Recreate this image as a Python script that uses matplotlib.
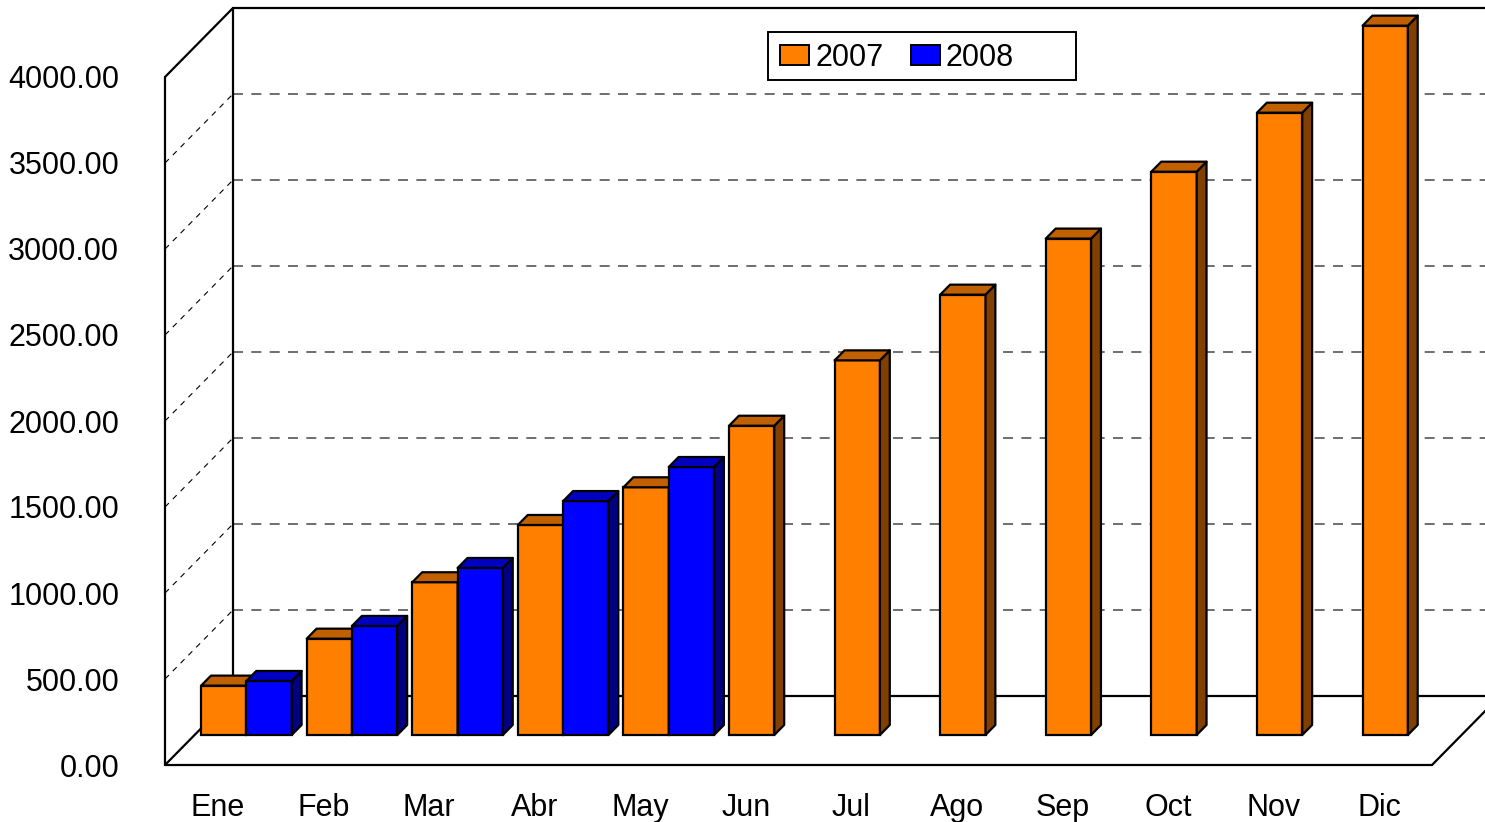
import numpy as np
import matplotlib
matplotlib.use('Agg')
import matplotlib.pyplot as plt
from matplotlib.patches import Polygon, Rectangle, Patch

plt.rcParams['font.family'] = ['Liberation Sans', 'DejaVu Sans']

# datos
meses = ['Ene', 'Feb', 'Mar', 'Abr', 'May', 'Jun', 'Jul', 'Ago', 'Sep', 'Oct', 'Nov', 'Dic']
valores_2007 = [287, 560, 888, 1221, 1440, 1798, 2178, 2560, 2886, 3275, 3618, 4124]
valores_2008 = [314, 634, 971, 1360, 1558]
series = ['2007', '2008']
yticks = np.arange(0, 4001, 500)

# colores tipo excel: frente, techo, lado
col_naranja = ('#FF8000', '#C06000', '#804000')
col_azul = ('#0000FF', '#0000C0', '#000080')

W, H = 1485, 822
fig = plt.figure(figsize=(W / 100, H / 100), dpi=100)
ax = fig.add_axes([165 / W, 57 / H, 1267 / W, 688 / H])
ax.set_xlim(0, 12)
ax.set_ylim(0, 4000)

# profundidad del "3D"
DX = 68 / (1267 / 12)
DY = 69 / 0.172
d0, d1 = 0.435, 0.58
ancho = 0.429
desp = 0.062

# paredes y suelo
negro = dict(color='black', lw=1.6, clip_on=False, zorder=2, solid_capstyle='round')
top = yticks[-1]
ax.plot([0, 0], [0, top], **negro)
ax.plot([0, DX], [top, top + DY], **negro)
ax.plot([DX, DX], [DY, top + DY], **negro)
ax.plot([DX, 12 + DX], [top + DY, top + DY], **negro)
ax.plot([DX, 12 + DX], [DY, DY], **negro)
ax.plot([0, 12], [0, 0], **negro)
ax.plot([0, DX], [0, DY], **negro)
ax.plot([12, 12 + DX], [0, DY], **negro)

for v in yticks[1:-1]:
    ax.plot([0, DX], [v, v + DY], color='black', lw=0.8, ls=(0, (5, 5)), clip_on=False, zorder=1)
    ax.plot([DX, 12 + DX], [v + DY, v + DY], color='#555555', lw=1.2, ls=(0, (6, 5)), clip_on=False, zorder=1)


def barra3d(x0, v, colores):
    frente, techo, lado = colores
    xf = x0 + d0 * DX
    ax.bar(xf, v, width=ancho, bottom=d0 * DY, align='edge', color=frente,
           edgecolor='black', linewidth=1.6, clip_on=False, zorder=3)
    xa, xb = xf + ancho, x0 + ancho + d1 * DX
    ya, yb = d0 * DY, d1 * DY
    lado_pts = [(xa, ya), (xb, yb), (xb, v + yb), (xa, v + ya)]
    techo_pts = [(xf, v + ya), (xa, v + ya), (xb, v + yb), (x0 + d1 * DX, v + yb)]
    for pts, c in ((lado_pts, lado), (techo_pts, techo)):
        ax.add_patch(Polygon(pts, closed=True, facecolor=c, edgecolor='black',
                             linewidth=1.6, joinstyle='round', clip_on=False, zorder=3))


for i, mes in enumerate(meses):
    barra3d(i + desp, valores_2007[i], col_naranja)
    if i < len(valores_2008):
        barra3d(i + desp + ancho, valores_2008[i], col_azul)

ax.set_yticks(yticks)
ax.set_yticklabels([f'{v:.2f}' for v in yticks], fontsize=22)
ax.set_xticks(np.arange(12) + 0.5)
ax.set_xticklabels(meses, fontsize=22)
ax.tick_params(axis='y', length=0, pad=33)
ax.tick_params(axis='x', length=0, pad=20)
for s in ax.spines.values():
    s.set_visible(False)
ax.set_facecolor('none')

# leyenda
fig.patches.append(Rectangle((768 / W, 1 - 80 / H), 308 / W, 48 / H, transform=fig.transFigure,
                             facecolor='white', edgecolor='black', linewidth=1.4))
handles = [Patch(facecolor=col_naranja[0], edgecolor='black', linewidth=1.4),
           Patch(facecolor=col_azul[0], edgecolor='black', linewidth=1.4)]
fig.legend(handles, series, loc='center left', bbox_to_anchor=(780 / W, 1 - 58 / H),
           ncol=2, frameon=False, fontsize=22, handlelength=0.95, handleheight=0.65,
           handletextpad=0.2, columnspacing=0.9, borderaxespad=0, borderpad=0)

fig.savefig('out.png', dpi=100, facecolor='white')
